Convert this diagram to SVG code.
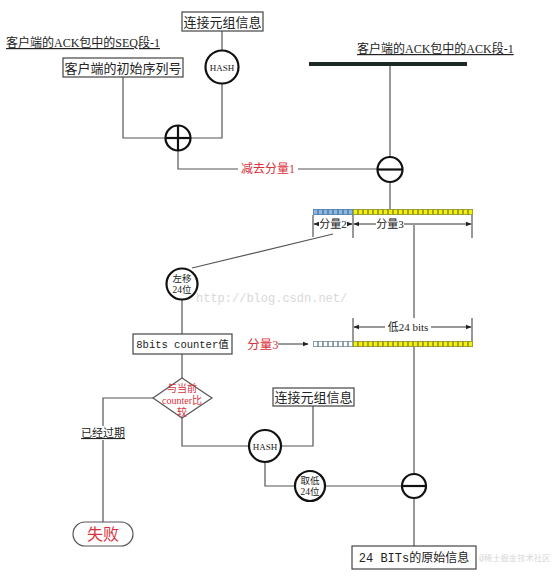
<svg xmlns="http://www.w3.org/2000/svg" width="554" height="576" viewBox="0 0 554 576">
<defs>
<style>
.ln{stroke:#555;stroke-width:1.2;fill:none}
.dim{stroke:#333;stroke-width:1;fill:none}
.box{fill:#fff;stroke:#444;stroke-width:1.2}
.op{fill:#fff;stroke:#111;stroke-width:2.2}
.opl{stroke:#111;stroke-width:2.2}
.t{font-family:"Liberation Serif","Noto Sans CJK SC",serif;fill:#222}
.tm{font-family:"Liberation Mono","Noto Sans CJK SC",monospace;fill:#222}
.red{fill:#d8323c}
.wm{font-family:"Liberation Mono","Noto Sans CJK SC",monospace;fill:#d8d8d8}
</style>
<marker id="ah" viewBox="0 0 10 10" refX="9" refY="5" markerWidth="6" markerHeight="6" orient="auto-start-reverse">
<path d="M0,1 L10,5 L0,9 z" fill="#222"/>
</marker>
<pattern id="py" x="313" y="209" width="5" height="6" patternUnits="userSpaceOnUse"><rect width="5" height="6" fill="#8f8f3a"/><rect x="0.8" y="0.8" width="3.4" height="4.4" fill="#f4f200"/></pattern>
<pattern id="pb" x="313" y="209" width="5" height="6" patternUnits="userSpaceOnUse"><rect width="5" height="6" fill="#4f7fb0"/><rect x="0.8" y="0.8" width="3.4" height="4.4" fill="#8fb6dc"/></pattern>
<pattern id="py2" x="313" y="341" width="5" height="6" patternUnits="userSpaceOnUse"><rect width="5" height="6" fill="#8f8f3a"/><rect x="0.8" y="0.8" width="3.4" height="4.4" fill="#f4f200"/></pattern>
<pattern id="pw2" x="313" y="341" width="5" height="6" patternUnits="userSpaceOnUse"><rect width="5" height="6" fill="#7a8a96"/><rect x="0.8" y="0.8" width="3.4" height="4.4" fill="#fff"/></pattern>
</defs>
<rect width="554" height="576" fill="#fff"/>

<!-- watermarks -->
<text class="wm" x="196" y="302" font-size="12">http://blog.csdn.net/</text>

<g id="connectors">
<polyline class="ln" points="123,77 123,138 165,138"/>
<polyline class="ln" points="222,84 222,138 191,138"/>
<line class="ln" x1="222" y1="31" x2="222" y2="50"/>
<polyline class="ln" points="178,151 178,169 238,169"/>
<line class="ln" x1="298" y1="169" x2="378" y2="169"/>
<line class="ln" x1="390" y1="66" x2="390" y2="157"/>
<line class="ln" x1="390" y1="182" x2="390" y2="209"/>
<line class="dim" x1="313" y1="215" x2="313" y2="237"/>
<line class="dim" x1="353" y1="215" x2="353" y2="238"/>
<line class="dim" x1="472" y1="215" x2="472" y2="238"/>
<line class="dim" x1="314" y1="224" x2="319" y2="224" marker-start="url(#ah)"/>
<line class="dim" x1="347" y1="224" x2="352" y2="224" marker-end="url(#ah)"/>
<line class="dim" x1="354" y1="224" x2="376" y2="224" marker-start="url(#ah)"/>
<line class="dim" x1="404" y1="224" x2="471" y2="224" marker-end="url(#ah)"/>
<line class="ln" x1="414" y1="225" x2="414" y2="318"/>
<line class="ln" x1="333" y1="234" x2="192" y2="268"/>
<line class="ln" x1="182" y1="299" x2="182" y2="334"/>
<line class="dim" x1="353" y1="318" x2="353" y2="341"/>
<line class="dim" x1="472" y1="318" x2="472" y2="341"/>
<line class="dim" x1="354" y1="327" x2="385" y2="327" marker-start="url(#ah)"/>
<line class="dim" x1="431" y1="327" x2="471" y2="327" marker-end="url(#ah)"/>
<line class="dim" x1="278" y1="344" x2="308" y2="344" marker-end="url(#ah)"/>
<line class="ln" x1="182" y1="354" x2="182" y2="378"/>
<polyline class="ln" points="153,398 103,398 103,522"/>
<polyline class="ln" points="182,418 182,446 249,446"/>
<polyline class="ln" points="313,406 313,446 281,446"/>
<polyline class="ln" points="265,462 265,486 295,486"/>
<line class="ln" x1="325" y1="486" x2="402" y2="486"/>
<line class="ln" x1="414" y1="347" x2="414" y2="474"/>
<line class="ln" x1="414" y1="498" x2="414" y2="546"/>
</g>

<g id="label-seq">
<text class="t" x="6" y="47" font-size="12" text-decoration="underline">客户端的ACK包中的SEQ段-1</text>
</g>
<g id="label-ack">
<text class="t" x="357" y="53" font-size="12" text-decoration="underline">客户端的ACK包中的ACK段-1</text>
</g>
<g id="ack-bar"><rect x="309" y="62" width="158" height="4" fill="#1e2a28"/></g>

<g id="box-tuple1">
<rect class="box" x="182" y="12" width="81" height="19"/>
<text class="t" x="222.5" y="26.5" font-size="13" text-anchor="middle">连接元组信息</text>
</g>
<g id="box-isn">
<rect class="box" x="63" y="58" width="120" height="19"/>
<text class="t" x="123" y="72.5" font-size="13" text-anchor="middle">客户端的初始序列号</text>
</g>
<g id="hash1">
<circle class="op" cx="222" cy="67" r="16.5"/>
<text class="t" x="222" y="70.5" font-size="9" text-anchor="middle">HASH</text>
</g>
<g id="plus">
<circle class="op" cx="178" cy="138" r="12.5"/>
<line class="opl" x1="165.5" y1="138" x2="190.5" y2="138"/>
<line class="opl" x1="178" y1="125.5" x2="178" y2="150.5"/>
</g>
<g id="label-sub1">
<text class="t red" x="268" y="173" font-size="12" text-anchor="middle">减去分量1</text>
</g>
<g id="minus1">
<circle class="op" cx="390" cy="169.5" r="12.5"/>
<line class="opl" x1="377.5" y1="169.5" x2="402.5" y2="169.5"/>
</g>

<g id="bits1">
<rect x="313" y="209" width="40" height="6" fill="url(#pb)"/>
<rect x="353" y="209" width="120" height="6" fill="url(#py)"/>
<text class="t" x="333" y="228" font-size="11" text-anchor="middle">分量2</text>
<text class="t" x="390" y="228" font-size="11" text-anchor="middle">分量3</text>
</g>

<g id="shift">
<circle class="op" cx="182" cy="284" r="15.5"/>
<text class="t" x="182" y="282" font-size="9.5" text-anchor="middle">左移</text>
<text class="t" x="182" y="293" font-size="9.5" text-anchor="middle">24位</text>
</g>

<g id="bits2">
<text class="t" x="408" y="331" font-size="11" text-anchor="middle">低24 bits</text>
<text class="t red" x="263" y="348.5" font-size="12.5" text-anchor="middle">分量3</text>
<rect x="313" y="341" width="40" height="6" fill="url(#pw2)"/>
<rect x="353" y="341" width="120" height="6" fill="url(#py2)"/>
</g>

<g id="box-counter">
<rect class="box" x="133" y="334" width="99" height="20"/>
<text class="tm" x="182.5" y="348" font-size="10.5" text-anchor="middle">8bits counter值</text>
</g>

<g id="compare">
<polygon points="182,378 212,398 182,418 153,398" fill="#fff" stroke="#555" stroke-width="1.2"/>
<text class="t red" x="182" y="392" font-size="10" text-anchor="middle">与当前</text>
<text class="t red" x="182" y="404" font-size="10" text-anchor="middle">counter比</text>
<text class="t red" x="182" y="416" font-size="10" text-anchor="middle">较</text>
</g>

<g id="label-expired">
<rect x="82" y="426" width="42" height="14" fill="#fff"/>
<text class="t" x="103" y="437" font-size="11" text-anchor="middle" text-decoration="underline">已经过期</text>
</g>

<g id="fail">
<rect x="73" y="522" width="60" height="24" rx="12" ry="12" fill="#fff" stroke="#555" stroke-width="1.2"/>
<text class="t red" x="103" y="539.5" font-size="16" text-anchor="middle">失败</text>
</g>

<g id="box-tuple2">
<rect class="box" x="273" y="388" width="81" height="18"/>
<text class="t" x="313.5" y="402" font-size="13" text-anchor="middle">连接元组信息</text>
</g>
<g id="hash2">
<circle class="op" cx="265" cy="446" r="16"/>
<text class="t" x="265" y="449.5" font-size="9" text-anchor="middle">HASH</text>
</g>
<g id="low24">
<circle class="op" cx="310" cy="486" r="15"/>
<text class="t" x="310" y="484" font-size="9.5" text-anchor="middle">取低</text>
<text class="t" x="310" y="495" font-size="9.5" text-anchor="middle">24位</text>
</g>
<g id="minus2">
<circle class="op" cx="414" cy="486" r="12"/>
<line class="opl" x1="402" y1="486" x2="426" y2="486"/>
</g>
<g id="box-orig">
<rect class="box" x="352" y="546" width="124" height="23"/>
<text class="tm" x="414" y="562" font-size="12" text-anchor="middle">24 BITs的原始信息</text>
</g>

<text class="wm" x="479" y="561" font-size="8.3">@稀土掘金技术社区</text>
</svg>
